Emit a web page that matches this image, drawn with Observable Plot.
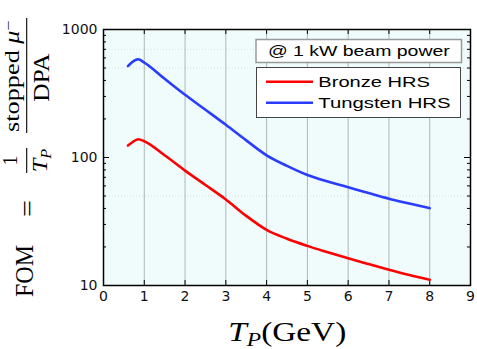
<!DOCTYPE html>
<html><head><meta charset="utf-8">
<script src="https://cdn.jsdelivr.net/npm/d3@7"></script>
<script src="https://cdn.jsdelivr.net/npm/@observablehq/plot@0.6"></script>
<style>html,body{margin:0;padding:0;background:#fff} svg{display:block}</style>
</head><body><div id="chart"></div>
<script>
// ---- data ----
const energy   = [0.6, 0.7, 0.85, 1.0, 1.5, 2.0, 2.5, 3.0, 3.5, 4.0, 4.5, 5.0, 5.5, 6.0, 6.5, 7.0, 7.5, 8.0];
const bronze   = [124, 131, 139, 134, 104, 79, 61, 47, 35, 27.2, 23.2, 20.4, 18.2, 16.3, 14.7, 13.3, 12.1, 11.1];
const tungsten = [517, 555, 585, 552, 412, 309, 236, 180, 136, 104, 86, 73, 65, 58.6, 52.7, 47.6, 43.7, 40.2];
const seriesNames = ["Bronze HRS", "Tungsten HRS"];
const seriesColors = ["#ff0000", "#2a3dff"];
const xTicks = [0, 1, 2, 3, 4, 5, 6, 7, 8, 9];
const xGrid = [1, 2, 3, 4, 5, 6, 7, 8];
const yTicks = [10, 100, 1000];
const yMinor = [20, 30, 40, 50, 60, 70, 80, 90, 200, 300, 400, 500, 600, 700, 800, 900];
const yFaint = [50, 500, 700];
const noteText = "@ 1 kW beam power";

const rows = energy.flatMap((e, i) => [
  {x: e, y: bronze[i], s: seriesNames[0]},
  {x: e, y: tungsten[i], s: seriesNames[1]}
]);

const W = 477, H = 349, mL = 103, mR = 7, mT = 29, mB = 64;
const pw = W - mL - mR, ph = H - mT - mB;

const plot = Plot.plot({
  width: W, height: H,
  marginLeft: mL, marginRight: mR, marginTop: mT, marginBottom: mB,
  style: {fontFamily: "DejaVu Sans", fontSize: "14px", color: "#111", background: "#fff"},
  x: {domain: [0, 9]},
  y: {type: "log", domain: [10, 1000]},
  color: {domain: seriesNames, range: seriesColors},
  marks: [
    Plot.frame({fill: "#effcfb", stroke: null}),
    Plot.ruleY(yFaint, {y: d => d, stroke: "#d6e2e2", strokeDasharray: "1,2"}),
    Plot.ruleX(xGrid, {x: d => d, stroke: "#aab8b8", strokeWidth: 1}),
    Plot.tickX(xGrid, {x: d => d, insetTop: ph - 5, stroke: "#000"}),
    Plot.tickX(xGrid, {x: d => d, insetBottom: ph - 5, stroke: "#000"}),
    Plot.tickY(yTicks, {y: d => d, insetRight: pw - 6, stroke: "#000"}),
    Plot.tickY(yTicks, {y: d => d, insetLeft: pw - 6, stroke: "#000"}),
    Plot.tickY(yMinor, {y: d => d, insetRight: pw - 3, stroke: "#000"}),
    Plot.tickY(yMinor, {y: d => d, insetLeft: pw - 3, stroke: "#000"}),
    Plot.line(rows, {x: "x", y: "y", z: "s", stroke: "s", strokeWidth: 2.6, curve: "monotone-x"}),
    Plot.frame({stroke: "#000", strokeWidth: 1.5}),
    Plot.axisX(xTicks, {tickSize: 0, tickPadding: 6, label: null, fontSize: 14}),
    Plot.axisY(yTicks, {tickSize: 0, tickPadding: 6, tickFormat: d => String(d), label: null, fontSize: 14})
  ]
});
document.getElementById("chart").appendChild(plot);

// ---- annotations (text) ----
const svg = d3.select(plot);
const serif = "Liberation Serif";
const sans = "Liberation Sans";
function piece(tx, ty, rot, len, anchor, build) {
  const g = svg.append("g").attr("transform", `translate(${tx},${ty}) rotate(${rot})`);
  const inner = g.append("g");
  const t = inner.append("text").attr("text-anchor", anchor).attr("fill", "#000");
  build(t);
  if (len) {
    const w = t.node().getBBox().width;
    if (w > 0) inner.attr("transform", `scale(${len / w},1)`);
  }
  return t;
}
function bar(x1, y1, x2, y2, w) {
  svg.append("line").attr("x1", x1).attr("y1", y1).attr("x2", x2).attr("y2", y2)
    .attr("stroke", "#000").attr("stroke-width", w);
}

// Y label: FOM = (1/T_P) (stopped μ⁻ / DPA)
piece(33, 271, -90, 52, "middle", t => t.attr("font-family", serif).attr("font-size", 25).text("FOM"));
piece(36, 208.5, -90, 17, "middle", t => t.attr("font-family", serif).attr("font-size", 25).text("="));
piece(17, 160.5, -90, null, "middle", t => t.attr("font-family", serif).attr("font-size", 20).text("1"));
bar(26.7, 148, 26.7, 173, 1.1);
piece(47, 160.5, -90, 24, "middle", t => {
  t.attr("font-family", serif).attr("font-size", 21);
  t.append("tspan").attr("font-style", "italic").text("T");
  t.append("tspan").attr("font-style", "italic").attr("font-size", 14).attr("dy", 4).text("P");
});
bar(26.7, 18, 26.7, 133, 1.1);
piece(19, 76, -90, 112, "middle", t => {
  t.attr("font-family", serif).attr("font-size", 20);
  t.append("tspan").text("stopped ");
  t.append("tspan").attr("font-style", "italic").text("μ");
  t.append("tspan").attr("font-size", 14).attr("dy", -6).text("−");
});
piece(49, 77.5, -90, 49, "middle", t => t.attr("font-family", serif).attr("font-size", 24).text("DPA"));

// X label: T_P(GeV)
piece(287.3, 340.5, 0, 118, "middle", t => {
  t.attr("font-family", serif).attr("font-size", 27);
  t.append("tspan").attr("font-style", "italic").text("T");
  t.append("tspan").attr("font-style", "italic").attr("font-size", 19).attr("dy", 5).text("P");
  t.append("tspan").attr("dy", -5).text("(GeV)");
});

// Note box
svg.append("rect").attr("x", 256).attr("y", 39.5).attr("width", 205.5).attr("height", 23)
  .attr("fill", "#fff").attr("stroke", "#999").attr("stroke-width", 1.5);
piece(358.8, 56, 0, 182, "middle", t => t.attr("font-family", sans).attr("font-size", 15.5).text(noteText));

// Legend box
svg.append("rect").attr("x", 256.5).attr("y", 67.5).attr("width", 204).attr("height", 50)
  .attr("fill", "#fff").attr("stroke", "#444").attr("stroke-width", 1);
const legY = [81.7, 102.7], legLen = [111.7, 132.4];
seriesNames.forEach((name, i) => {
  svg.append("line").attr("x1", 266).attr("x2", 313).attr("y1", legY[i]).attr("y2", legY[i])
    .attr("stroke", seriesColors[i]).attr("stroke-width", 2.6);
  piece(318.3, legY[i] + 5.6, 0, legLen[i], "start", t => t.attr("font-family", sans).attr("font-size", 15).text(name));
});
</script>
</body></html>
